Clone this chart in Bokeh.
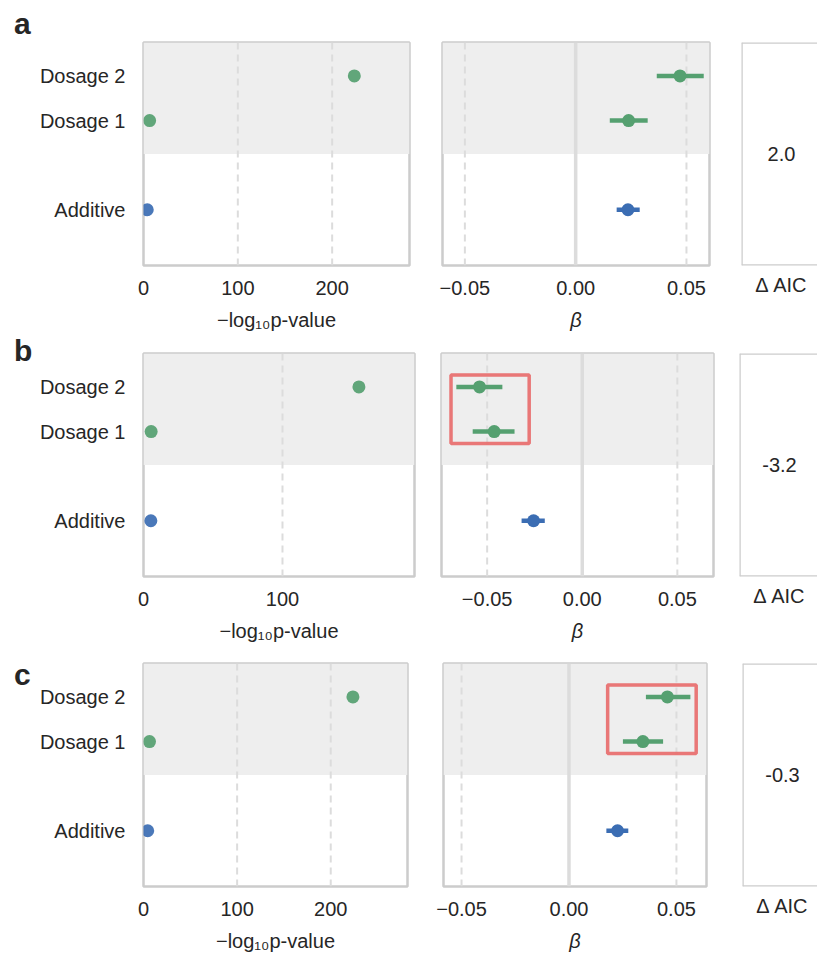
from bokeh.plotting import figure
from bokeh.layouts import column, row
from bokeh.models import Range1d, FixedTicker, BoxAnnotation, Span, Div
from bokeh.embed import file_html
from bokeh.resources import INLINE
from bokeh.core.properties import value

# ---------------- data ----------------
categories = ["Additive", "Dosage 1", "Dosage 2"]
panel_letters = ["a", "b", "c"]

# panel a
neglogp_a = [4.0, 6.5, 223.5]
beta_a = [0.0236, 0.0239, 0.0471]
beta_lo_a = [0.0185, 0.0154, 0.0366]
beta_hi_a = [0.0289, 0.0325, 0.0578]
daic_a = "2.0"
highlight_a = None

# panel b
neglogp_b = [5.3, 5.5, 155.0]
beta_b = [-0.0256, -0.0463, -0.0540]
beta_lo_b = [-0.0319, -0.0576, -0.0662]
beta_hi_b = [-0.0197, -0.0356, -0.0420]
daic_b = "-3.2"
highlight_b = [-0.0690, -0.0279]

# panel c
neglogp_c = [4.5, 6.4, 223.7]
beta_c = [0.0226, 0.0344, 0.0458]
beta_lo_c = [0.0174, 0.0251, 0.0358]
beta_hi_c = [0.0276, 0.0438, 0.0565]
daic_c = "-0.3"
highlight_c = [0.0180, 0.0592]

pval_ticks_a = [0, 100, 200]
pval_ticks_b = [0, 100]
pval_ticks_c = [0, 100, 200]
beta_ticks = [-0.05, 0.0, 0.05]
beta_tick_labels = ["\u22120.05", "0.00", "0.05"]

# ---------------- styles ----------------
FONT = "Liberation Sans"
TXT = "#262626"
GREEN = "#55a070"
BLUE = "#3b6db3"
cat_colors = {"Additive": BLUE, "Dosage 1": GREEN, "Dosage 2": GREEN}
cat_pos = {"Additive": 0, "Dosage 1": 2, "Dosage 2": 3}
Y_RANGE = (-1.25, 3.75)
BAND_BOTTOM = 1.25
FRAME_H = 223
OUTLINE = "#cccccc"
GRID = "#dcdcdc"
FS = "20px"
LETTER_W = 34

panels = [
    dict(letter="a", nlp=neglogp_a, b=beta_a, lo=beta_lo_a, hi=beta_hi_a, daic=daic_a,
         hl=highlight_a, pticks=pval_ticks_a, prange=(0, 282), brange=(-0.0601, 0.0604),
         top=42, bottom=70, lw=266, lr=16, ml=17, mw=267, mr=16, al=16, aw=76, letter_base=34),
    dict(letter="b", nlp=neglogp_b, b=beta_b, lo=beta_lo_b, hi=beta_hi_b, daic=daic_b,
         hl=highlight_b, pticks=pval_ticks_b, prange=(0, 195), brange=(-0.074, 0.069),
         top=18, bottom=70, lw=271, lr=13, ml=14, mw=272, mr=13, al=13, aw=78, letter_base=26),
    dict(letter="c", nlp=neglogp_c, b=beta_c, lo=beta_lo_c, hi=beta_hi_c, daic=daic_c,
         hl=highlight_c, pticks=pval_ticks_c, prange=(0, 282), brange=(-0.0584, 0.064),
         top=17, bottom=69, lw=264, lr=18, ml=18, mw=263, mr=18, al=18, aw=75, letter_base=39),
]


def style_xaxis(p, ticks, labels=None, standoff=15):
    ax = p.xaxis[0]
    ax.ticker = FixedTicker(ticks=ticks, minor_ticks=[])
    if labels is not None:
        ax.major_label_overrides = {t: l for t, l in zip(ticks, labels)}
    ax.axis_line_color = None
    ax.major_tick_line_color = None
    ax.minor_tick_line_color = None
    ax.major_tick_out = 0
    ax.major_tick_in = 0
    ax.major_label_standoff = standoff
    ax.major_label_text_font = FONT
    ax.major_label_text_font_size = FS
    ax.major_label_text_color = TXT
    ax.axis_label_standoff = 11
    ax.axis_label_text_font = FONT
    ax.axis_label_text_font_size = FS
    ax.axis_label_text_color = TXT
    ax.axis_label_text_font_style = "normal"


def base_fig(fw, left, right, top, bottom, xr, y_axis=True):
    p = figure(frame_width=fw, frame_height=FRAME_H,
               min_border_left=left, min_border_right=right,
               min_border_top=top, min_border_bottom=bottom,
               x_range=Range1d(*xr), y_range=Range1d(*Y_RANGE),
               toolbar_location=None, output_backend="svg",
               y_axis_location="left" if y_axis else None)
    p.xgrid.visible = False
    p.ygrid.visible = False
    p.outline_line_color = OUTLINE
    p.outline_line_width = 2.5
    p.background_fill_color = "white"
    p.border_fill_color = "white"
    return p


def add_band(p):
    p.add_layout(BoxAnnotation(bottom=BAND_BOTTOM, fill_color="#eeeeee", fill_alpha=1.0,
                               line_color=None, level="underlay"))


rows = []
for pn in panels:
    ys = [cat_pos[c] for c in categories]
    cols = [cat_colors[c] for c in categories]
    row_h = pn["top"] + FRAME_H + pn["bottom"]

    # ---- panel letter (HTML strip) ----
    top_px = pn["letter_base"] - 25.4  # baseline offset for 30px font with 30px line-height
    p0 = Div(width=LETTER_W, height=row_h,
             text=(f'<div style="position:relative;left:14px;top:{top_px:.1f}px;margin:0;padding:0;'
                   f'font-family:\'{FONT}\';font-size:30px;line-height:30px;font-weight:bold;'
                   f'color:{TXT};">{pn["letter"]}</div>'),
             styles={"margin": "0", "padding": "0", "overflow": "visible"})

    # ---- left: -log10 p-value ----
    p1 = base_fig(pn["lw"], 143 - LETTER_W, pn["lr"], pn["top"], pn["bottom"], pn["prange"])
    add_band(p1)
    for t in pn["pticks"]:
        if t != 0:
            p1.add_layout(Span(location=t, dimension="height", line_color=GRID,
                               line_width=2, line_dash="7 5", level="underlay"))
    p1.scatter(x=pn["nlp"], y=ys, size=13, fill_color=cols, line_color=None, fill_alpha=0.92)
    style_xaxis(p1, pn["pticks"])
    p1.xaxis.axis_label = "\u2212log\u2081\u2080p-value"
    ya = p1.yaxis[0]
    ya.ticker = FixedTicker(ticks=ys, minor_ticks=[])
    ya.major_label_overrides = {cat_pos[c]: c for c in categories}
    ya.axis_line_color = None
    ya.major_tick_line_color = None
    ya.minor_tick_line_color = None
    ya.major_tick_out = 0
    ya.major_tick_in = 0
    ya.major_label_standoff = 18
    ya.major_label_text_font = FONT
    ya.major_label_text_font_size = FS
    ya.major_label_text_color = TXT

    # ---- middle: beta ----
    p2 = base_fig(pn["mw"], pn["ml"], pn["mr"], pn["top"], pn["bottom"], pn["brange"], y_axis=False)
    add_band(p2)
    for t in beta_ticks:
        if t == 0:
            p2.add_layout(Span(location=t, dimension="height", line_color=GRID,
                               line_width=3.5, level="underlay"))
        else:
            p2.add_layout(Span(location=t, dimension="height", line_color=GRID,
                               line_width=2, line_dash="7 5", level="underlay"))
    p2.segment(x0=pn["lo"], x1=pn["hi"], y0=ys, y1=ys, line_color=cols, line_width=4.5)
    p2.scatter(x=pn["b"], y=ys, size=13, fill_color=cols, line_color=None)
    if pn["hl"] is not None:
        y_in = [cat_pos["Dosage 1"], cat_pos["Dosage 2"]]
        p2.add_layout(BoxAnnotation(left=pn["hl"][0], right=pn["hl"][1],
                                    bottom=min(y_in) - 0.27, top=max(y_in) + 0.27,
                                    fill_color=None, line_color="#e87070", line_alpha=0.95,
                                    line_width=3.5))
    style_xaxis(p2, beta_ticks, beta_tick_labels)
    p2.xaxis.axis_label = "\u03b2"
    p2.xaxis.axis_label_text_font_style = "italic"

    # ---- right: delta AIC ----
    p3 = base_fig(pn["aw"], pn["al"], 0, pn["top"], pn["bottom"], (0, pn["aw"] / 80.0), y_axis=False)
    p3.outline_line_color = None
    p3.add_layout(Span(location=0, dimension="height", line_color=OUTLINE, line_width=2.5))
    p3.add_layout(Span(location=Y_RANGE[0], dimension="width", line_color=OUTLINE, line_width=2.5))
    p3.add_layout(Span(location=Y_RANGE[1], dimension="width", line_color=OUTLINE, line_width=2.5))
    p3.text(x=[0.5], y=[sum(Y_RANGE) / 2], text=[pn["daic"]], text_font=value(FONT),
            text_font_size=FS, text_color=TXT, text_align="center", text_baseline="middle")
    style_xaxis(p3, [0.5], ["\u0394 AIC"], standoff=8)

    rows.append(row(p0, p1, p2, p3))

layout = column(*rows)
open("out.html", "w").write(file_html(layout, INLINE))
